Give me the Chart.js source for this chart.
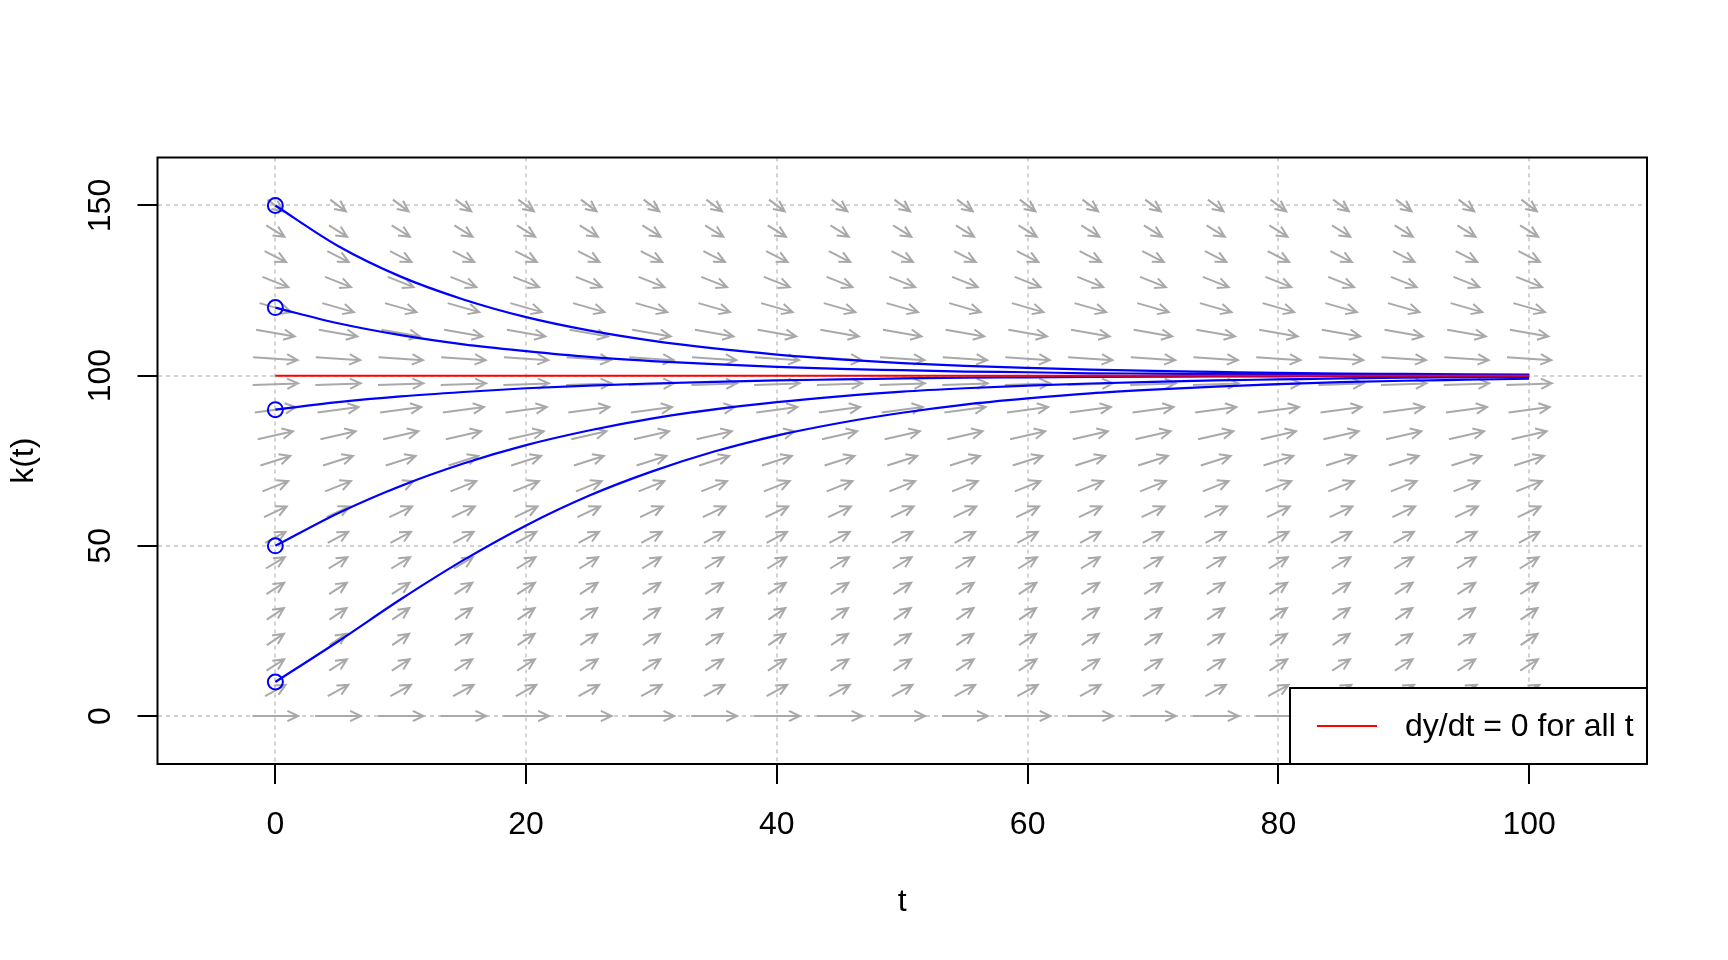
<!DOCTYPE html>
<html>
<head>
<meta charset="utf-8">
<script src="https://cdn.jsdelivr.net/npm/chart.js@4.4.1/dist/chart.umd.min.js"></script>
<style>
  body { margin: 0; background: #fff; }
</style>
</head>
<body>
<canvas id="aChart" width="1728" height="960"></canvas>
<script>
// axis ticks
let tTicks = [0, 20, 40, 60, 80, 100]
let kTicks = [0, 50, 100, 150]

// direction field grid, slope dk/dt read for each row (same along t)
let fieldT = [0, 5, 10, 15, 20, 25, 30, 35, 40, 45, 50, 55, 60, 65, 70, 75, 80, 85, 90, 95, 100]
let fieldK = [0, 7.5, 15, 22.5, 30, 37.5, 45, 52.5, 60, 67.5, 75, 82.5, 90, 97.5, 105, 112.5, 120, 127.5, 135, 142.5, 150]
let fieldSlope = [0, 1.99, 2.37, 2.49, 2.48, 2.37, 2.21, 2.0, 1.75, 1.47, 1.16, 0.83, 0.49, 0.12,
  -0.25, -0.64, -1.05, -1.46, -1.88, -2.31, -2.75]

// solution curves
let solT = [0, 5, 10, 15, 20, 25, 30, 35, 40, 45, 50, 55, 60, 65, 70, 75, 80, 85, 90, 95, 100]
let k150 = [150, 138.1, 129.1, 122.4, 117.2, 113.3, 110.3, 108.0, 106.2, 104.8, 103.7, 102.9, 102.3, 101.8, 101.4, 101.1, 100.8, 100.6, 100.5, 100.4, 100.3]
let k120 = [120, 115.4, 111.9, 109.2, 107.2, 105.5, 104.3, 103.4, 102.6, 102.0, 101.6, 101.2, 101.0, 100.7, 100.6, 100.5, 100.4, 100.3, 100.2, 100.2, 100.1]
let k90 = [90, 92.2, 93.9, 95.2, 96.3, 97.1, 97.7, 98.2, 98.6, 98.9, 99.2, 99.4, 99.5, 99.6, 99.7, 99.8, 99.8, 99.9, 99.9, 99.9, 99.9]
let k50 = [50, 59.6, 67.6, 74.2, 79.6, 83.9, 87.4, 90.1, 92.2, 93.9, 95.3, 96.3, 97.1, 97.7, 98.2, 98.6, 98.9, 99.2, 99.4, 99.5, 99.6]
let k10 = [10, 21.9, 34.3, 45.8, 56.0, 64.7, 71.8, 77.7, 82.4, 86.1, 89.1, 91.5, 93.3, 94.8, 95.9, 96.8, 97.5, 98.1, 98.5, 98.8, 99.1]
let startK = [150, 120, 90, 50, 10]

// steady state line
let steadyT = [0, 100]
let steadyK = [100, 100]

Chart.defaults.font.family = "'Liberation Sans', Arial, sans-serif"
Chart.defaults.font.size = 32
Chart.defaults.color = "#000"

let arrowLen = 3.65
let headLen = 12
let headAng = Math.PI / 7

let fieldPlugin = {
  id: "field",
  beforeDatasetsDraw(chart) {
    let { ctx, scales: { x, y } } = chart
    ctx.save()
    ctx.strokeStyle = "#a9a9a9"
    ctx.lineWidth = 2
    fieldK.forEach((k, i) => {
      let s = fieldSlope[i]
      let dt = arrowLen / Math.sqrt(1 + s * s)
      let dk = s * dt
      fieldT.forEach(t => {
        let x1 = x.getPixelForValue(t - dt / 2), y1 = y.getPixelForValue(k - dk / 2)
        let x2 = x.getPixelForValue(t + dt / 2), y2 = y.getPixelForValue(k + dk / 2)
        let a = Math.atan2(y2 - y1, x2 - x1)
        ctx.beginPath()
        ctx.moveTo(x1, y1)
        ctx.lineTo(x2, y2)
        ctx.moveTo(x2 - headLen * Math.cos(a - headAng), y2 - headLen * Math.sin(a - headAng))
        ctx.lineTo(x2, y2)
        ctx.lineTo(x2 - headLen * Math.cos(a + headAng), y2 - headLen * Math.sin(a + headAng))
        ctx.stroke()
      })
    })
    ctx.restore()
  },
  afterDraw(chart) {
    let { ctx, chartArea: a } = chart
    ctx.save()
    // legend, bottom right
    let ds = chart.data.datasets[0]
    let lw = 357, lh = 76
    let lx = a.right - lw, ly = a.bottom - lh
    ctx.fillStyle = "#fff"
    ctx.fillRect(lx, ly, lw, lh)
    ctx.strokeStyle = "#000"
    ctx.lineWidth = 2
    ctx.strokeRect(lx, ly, lw, lh)
    ctx.strokeStyle = ds.borderColor
    ctx.beginPath()
    ctx.moveTo(lx + 27, ly + 38)
    ctx.lineTo(lx + 87, ly + 38)
    ctx.stroke()
    ctx.fillStyle = "#000"
    ctx.font = "32px 'Liberation Sans', Arial, sans-serif"
    ctx.textBaseline = "middle"
    ctx.fillText(ds.label, lx + 115, ly + 39)
    // box round the plot
    ctx.strokeStyle = "#000"
    ctx.strokeRect(a.left, a.top, a.right - a.left, a.bottom - a.top)
    ctx.restore()
  }
}

let curves = [k150, k120, k90, k50, k10].map(ks => ({
  data: solT.map((t, i) => ({ x: t, y: ks[i] })),
  borderColor: "#0000ff",
  borderWidth: 2.2,
  pointRadius: 0,
  cubicInterpolationMode: "monotone",
  showLine: true,
}))

let aChart = new Chart(document.getElementById("aChart"), {
  type: "scatter",
  data: {
    datasets: [
      {
        label: "dy/dt = 0 for all t",
        data: steadyT.map((t, i) => ({ x: t, y: steadyK[i] })),
        borderColor: "#ff0000",
        borderWidth: 2,
        pointRadius: 0,
        showLine: true,
      },
      ...curves,
      {
        data: startK.map(k => ({ x: 0, y: k })),
        pointStyle: "circle",
        pointRadius: 7.5,
        pointBorderWidth: 2,
        pointBorderColor: "#0000ff",
        pointBackgroundColor: "rgba(0,0,0,0)",
        showLine: false,
      },
    ],
  },
  options: {
    responsive: false,
    animation: false,
    layout: { padding: { top: 157.5, right: 81, left: 0, bottom: 0 } },
    plugins: { legend: { display: false }, tooltip: { enabled: false } },
    scales: {
      x: {
        type: "linear",
        min: -9.4,
        max: 109.4,
        afterBuildTicks: s => { s.ticks = tTicks.map(v => ({ value: v })) },
        afterFit: s => { s.height = 196 },
        grid: { color: "#d3d3d3", lineWidth: 2, tickLength: 20, tickColor: "#000", tickWidth: 2 },
        border: { display: false, dash: [4, 4] },
        ticks: { padding: 22, maxRotation: 0, autoSkip: false },
        title: { display: true, text: "t", padding: { bottom: 39 } },
      },
      y: {
        type: "linear",
        min: -14.1,
        max: 164.1,
        afterBuildTicks: s => { s.ticks = kTicks.map(v => ({ value: v })) },
        afterFit: s => { s.width = 157.5 },
        grid: { color: "#d3d3d3", lineWidth: 2, tickLength: 20, tickColor: "#000", tickWidth: 2 },
        border: { display: false, dash: [4, 4] },
        ticks: { padding: 10, minRotation: 90, maxRotation: 90, crossAlign: "center", autoSkip: false },
        title: { display: true, text: "k(t)", padding: { top: 5 } },
      },
    },
  },
  plugins: [fieldPlugin],
})
</script>
</body>
</html>
